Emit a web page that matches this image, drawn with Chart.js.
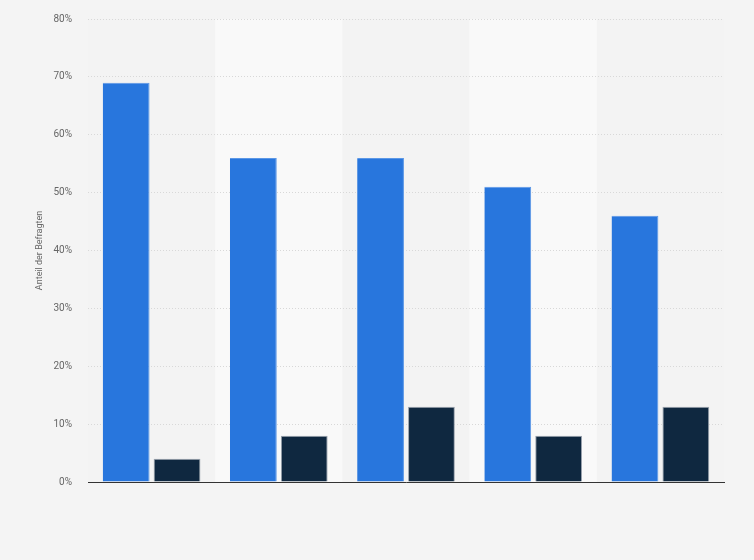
<!DOCTYPE html>
<html>
<head>
<meta charset="utf-8">
<script src="https://cdn.jsdelivr.net/npm/chart.js@4"></script>
<style>
  html, body { margin: 0; padding: 0; background: #f4f4f4; }
  #wrap { width: 754px; height: 560px; }
</style>
</head>
<body>
<div id="wrap"><canvas id="grafico"></canvas></div>
<script>
const categorias = ["", "", "", "", ""];
const serieA = [69, 56, 56, 51, 46];
const serieB = [4, 8, 13, 8, 13];
const yTicks = [0, 10, 20, 30, 40, 50, 60, 70, 80];

// faixas alternadas atrás das colunas
const faixas = {
  id: "faixas",
  beforeDraw(chart) {
    const { ctx, chartArea, scales } = chart;
    const x = scales.x;
    const passo = x.getPixelForValue(1) - x.getPixelForValue(0);
    ctx.save();
    categorias.forEach((c, i) => {
      const cx = x.getPixelForValue(i);
      ctx.fillStyle = i % 2 === 1 ? "#f9f9f9" : "#f3f3f3";
      ctx.fillRect(cx - passo / 2, chartArea.top, passo, chartArea.bottom - chartArea.top);
    });
    ctx.restore();
  }
};

new Chart(document.getElementById("grafico"), {
  type: "bar",
  data: {
    labels: categorias,
    datasets: [
      { data: serieA, backgroundColor: "#2876dd", borderColor: "#5b97e6", borderWidth: { top: 1, left: 0, right: 1, bottom: 0 } },
      { data: serieB, backgroundColor: "#0f2840", borderColor: "#9aa3ad", borderWidth: { top: 1, left: 1, right: 1, bottom: 0 } }
    ]
  },
  options: {
    responsive: true,
    maintainAspectRatio: false,
    animation: false,
    datasets: { bar: { categoryPercentage: 0.8, barPercentage: 0.92 } },
    layout: { padding: { top: 19, right: 30, bottom: 70, left: 30 } },
    plugins: { legend: { display: false }, tooltip: { enabled: false } },
    scales: {
      x: {
        ticks: { display: false },
        grid: { display: false },
        border: { color: "#333", width: 1 }
      },
      y: {
        min: 0,
        max: 80,
        afterBuildTicks: (s) => { s.ticks = yTicks.map(v => ({ value: v })); },
        afterFit: (s) => { s.width = 58; s.paddingTop = 0; s.paddingBottom = 0; },
        ticks: {
          callback: (v) => v + "%",
          color: "#666",
          padding: 16,
          font: { family: "Roboto, 'Liberation Sans', Arial", size: 10 }
        },
        grid: { color: "#d8d8d8", drawTicks: false },
        border: { display: false, dash: [1, 2] },
        title: {
          display: true,
          text: "Anteil der Befragten",
          color: "#666",
          padding: { top: 4, bottom: 0 },
          font: { family: "Roboto, 'Liberation Sans', Arial", size: 9 }
        }
      }
    }
  },
  plugins: [faixas]
});
</script>
</body>
</html>
